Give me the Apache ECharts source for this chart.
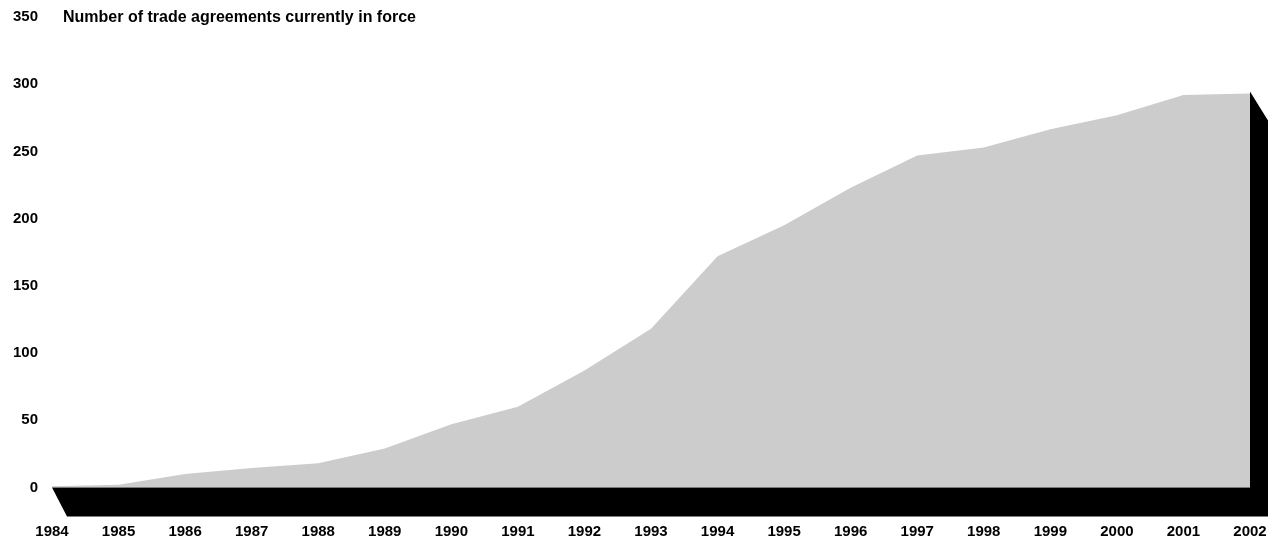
<!DOCTYPE html>
<html><head><meta charset="utf-8">
<script src="https://cdn.jsdelivr.net/npm/echarts@6/dist/echarts.min.js"></script>
<style>html,body{margin:0;padding:0;background:#fff}#c{width:1280px;height:541px}</style>
</head><body><div id="c"></div>
<script>
const years = ['1984','1985','1986','1987','1988','1989','1990','1991','1992','1993','1994','1995','1996','1997','1998','1999','2000','2001','2002'];
const agreements = [1, 2, 10, 14.5, 18, 29, 47, 60, 87, 118, 172, 195, 223, 247, 253, 266.5, 277, 292, 293];
const yTicks = [0, 50, 100, 150, 200, 250, 300, 350];
const titleText = 'Number of trade agreements currently in force';

const FONT = '"Liberation Sans", Arial, Helvetica, sans-serif';
const chart = echarts.init(document.getElementById('c'), null, {renderer: 'canvas'});
const option = {
  animation: false,
  backgroundColor: '#ffffff',
  title: {
    text: titleText, left: 58, top: 5,
    textStyle: {fontFamily: FONT, fontWeight: 'bold', fontSize: 16, color: '#000'}
  },
  grid: {left: 52, right: 30, top: 17, bottom: 53.5, containLabel: false},
  xAxis: {
    type: 'category', data: years, boundaryGap: false,
    axisLine: {show: false}, axisTick: {show: false},
    axisLabel: {margin: 37, fontFamily: FONT, fontWeight: 'bold', fontSize: 15, color: '#000', interval: 0}
  },
  yAxis: {
    type: 'value', min: yTicks[0], max: yTicks[yTicks.length - 1], interval: 50,
    axisLine: {show: false}, axisTick: {show: false}, splitLine: {show: false},
    axisLabel: {margin: 14, fontFamily: FONT, fontWeight: 'bold', fontSize: 15, color: '#000', padding: [5, 0, 0, 0]}
  },
  series: [
    {
      type: 'line', data: agreements, symbol: 'none', z: 2,
      lineStyle: {width: 0}, areaStyle: {color: '#cccccc', opacity: 1}
    },
    {
      type: 'custom', z: 3, data: [[0, 0]], clip: false, silent: true,
      renderItem: function (params, api) {
        const last = years.length - 1;
        const p0 = api.coord([0, 0]);
        const pN = api.coord([last, 0]);
        const pT = api.coord([last, agreements[last]]);
        const depth = 29;
        return {
          type: 'polygon',
          shape: {points: [
            [p0[0], p0[1]],
            [pN[0], pN[1]],
            [pT[0], pT[1] - 2],
            [pT[0] + 18, pT[1] - 2 + depth],
            [pN[0] + 18, pN[1] + depth],
            [p0[0] + 15, p0[1] + depth]
          ]},
          style: {fill: '#000'}
        };
      }
    }
  ]
};
chart.setOption(option);
</script></body></html>
